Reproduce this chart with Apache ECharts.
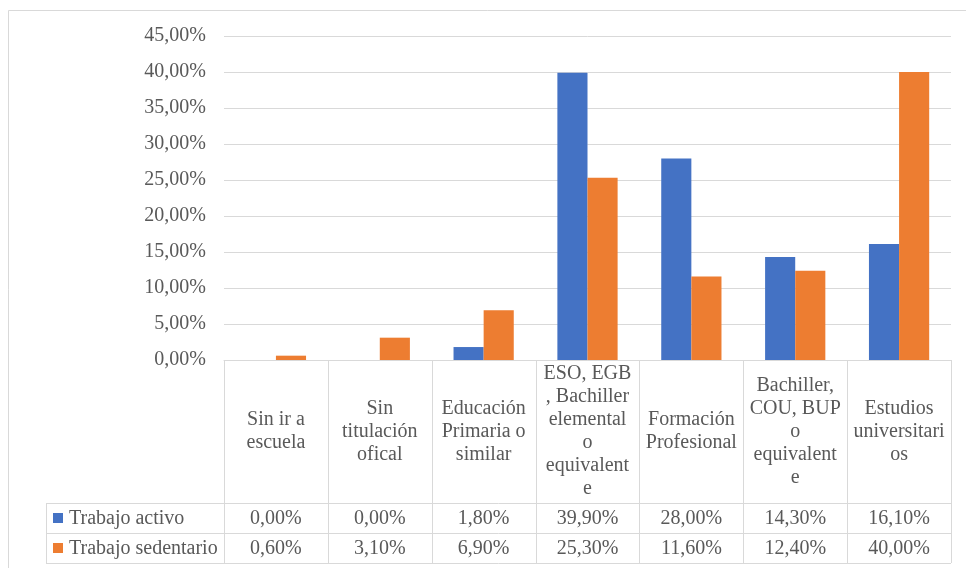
<!DOCTYPE html>
<html>
<head>
<meta charset="utf-8">
<script src="https://cdn.jsdelivr.net/npm/echarts@6/dist/echarts.min.js"></script>
<style>
  html, body { margin: 0; padding: 0; background: #fff; }
  #chart { width: 966px; height: 568px; }
</style>
</head>
<body>
<div id="chart"></div>
<script>
// Education level categories (line breaks as shown in the data table header)
const categories = [
  'Sin ir a\nescuela',
  'Sin\ntitulación\nofical',
  'Educación\nPrimaria o\nsimilar',
  'ESO, EGB\n, Bachiller\nelemental\no\nequivalent\ne',
  'Formación\nProfesional',
  'Bachiller,\nCOU, BUP\no\nequivalent\ne',
  'Estudios\nuniversitari\nos'
];
const seriesNames = ['Trabajo activo', 'Trabajo sedentario'];
const trabajoActivo = [0.00, 0.00, 1.80, 39.90, 28.00, 14.30, 16.10];
const trabajoSedentario = [0.60, 3.10, 6.90, 25.30, 11.60, 12.40, 40.00];
const colors = ['#4472C4', '#ED7D31'];

const FONT = 'Liberation Serif';
const FONT_SIZE = 20;
const TEXT = '#595959';
const LINE = '#D9D9D9';

// plot layout
const W = 966, H = 568;
const gridLeft = 224, gridRight = 951, gridTop = 36, gridBottom = 360;
// data table rows
const headerBottom = 503, row1Bottom = 533, row2Bottom = 563, legendLeft = 46;

const fmt = v => v.toFixed(2).replace('.', ',') + '%';

const chart = echarts.init(document.getElementById('chart'), null, { renderer: 'canvas' });

chart.setOption({
  animation: false,
  backgroundColor: '#fff',
  grid: { left: gridLeft, right: W - gridRight, top: gridTop, bottom: H - gridBottom, containLabel: false },
  xAxis: {
    type: 'category',
    data: categories,
    axisLine: { show: true, lineStyle: { color: LINE, width: 1 } },
    axisTick: { show: false },
    axisLabel: { show: false }
  },
  yAxis: {
    type: 'value',
    min: 0, max: 45, interval: 5,
    axisLine: { show: false },
    axisTick: { show: false },
    splitLine: { lineStyle: { color: LINE, width: 1 } },
    axisLabel: {
      formatter: v => fmt(v),
      color: TEXT, fontFamily: FONT, fontSize: FONT_SIZE, margin: 18
    }
  },
  series: [
    { name: seriesNames[0], type: 'bar', data: trabajoActivo, itemStyle: { color: colors[0] },
      barGap: '0%', barCategoryGap: '42%' },
    { name: seriesNames[1], type: 'bar', data: trabajoSedentario, itemStyle: { color: colors[1] },
      barGap: '0%', barCategoryGap: '42%' }
  ]
});

// Data table beneath the plot, aligned to the category axis
function buildTable() {
  const g = [];
  const line = (x1, y1, x2, y2) => g.push({
    type: 'line', silent: true,
    shape: { x1, y1, x2, y2 },
    style: { stroke: LINE, lineWidth: 1 }
  });
  const text = (x, y, s, align) => g.push({
    type: 'text', silent: true,
    x, y,
    style: { text: s, fill: TEXT, fontFamily: FONT, fontSize: FONT_SIZE, align: align || 'center',
      verticalAlign: 'middle', lineHeight: 23 }
  });

  // chart frame
  g.push({ type: 'rect', silent: true, shape: { x: 8.5, y: 10.5, width: 1000, height: 600 },
    style: { fill: null, stroke: LINE, lineWidth: 1 } });

  const n = categories.length;
  const step = (gridRight - gridLeft) / n;
  const centers = categories.map((c, i) => chart.convertToPixel({ xAxisIndex: 0 }, i));

  // vertical cell borders
  for (let i = 0; i <= n; i++) {
    const x = Math.round(gridLeft + i * step) + 0.5;
    line(x, gridBottom, x, row2Bottom);
  }
  line(legendLeft + 0.5, headerBottom, legendLeft + 0.5, row2Bottom);
  // horizontal row borders
  [headerBottom, row1Bottom, row2Bottom].forEach(y => line(legendLeft, y + 0.5, gridRight, y + 0.5));

  // header labels
  categories.forEach((c, i) => text(centers[i], (gridBottom + headerBottom) / 2, c));

  // rows: legend key + values
  const rows = [trabajoActivo, trabajoSedentario];
  const tops = [headerBottom, row1Bottom];
  const bottoms = [row1Bottom, row2Bottom];
  rows.forEach((vals, r) => {
    const cy = (tops[r] + bottoms[r]) / 2 + 1;
    g.push({ type: 'rect', silent: true,
      shape: { x: 53, y: cy - 6, width: 10, height: 10 },
      style: { fill: colors[r] } });
    text(69, cy, seriesNames[r], 'left');
    vals.forEach((v, i) => text(centers[i], cy, fmt(v)));
  });

  chart.setOption({ graphic: g });
}
buildTable();
</script>
</body>
</html>
